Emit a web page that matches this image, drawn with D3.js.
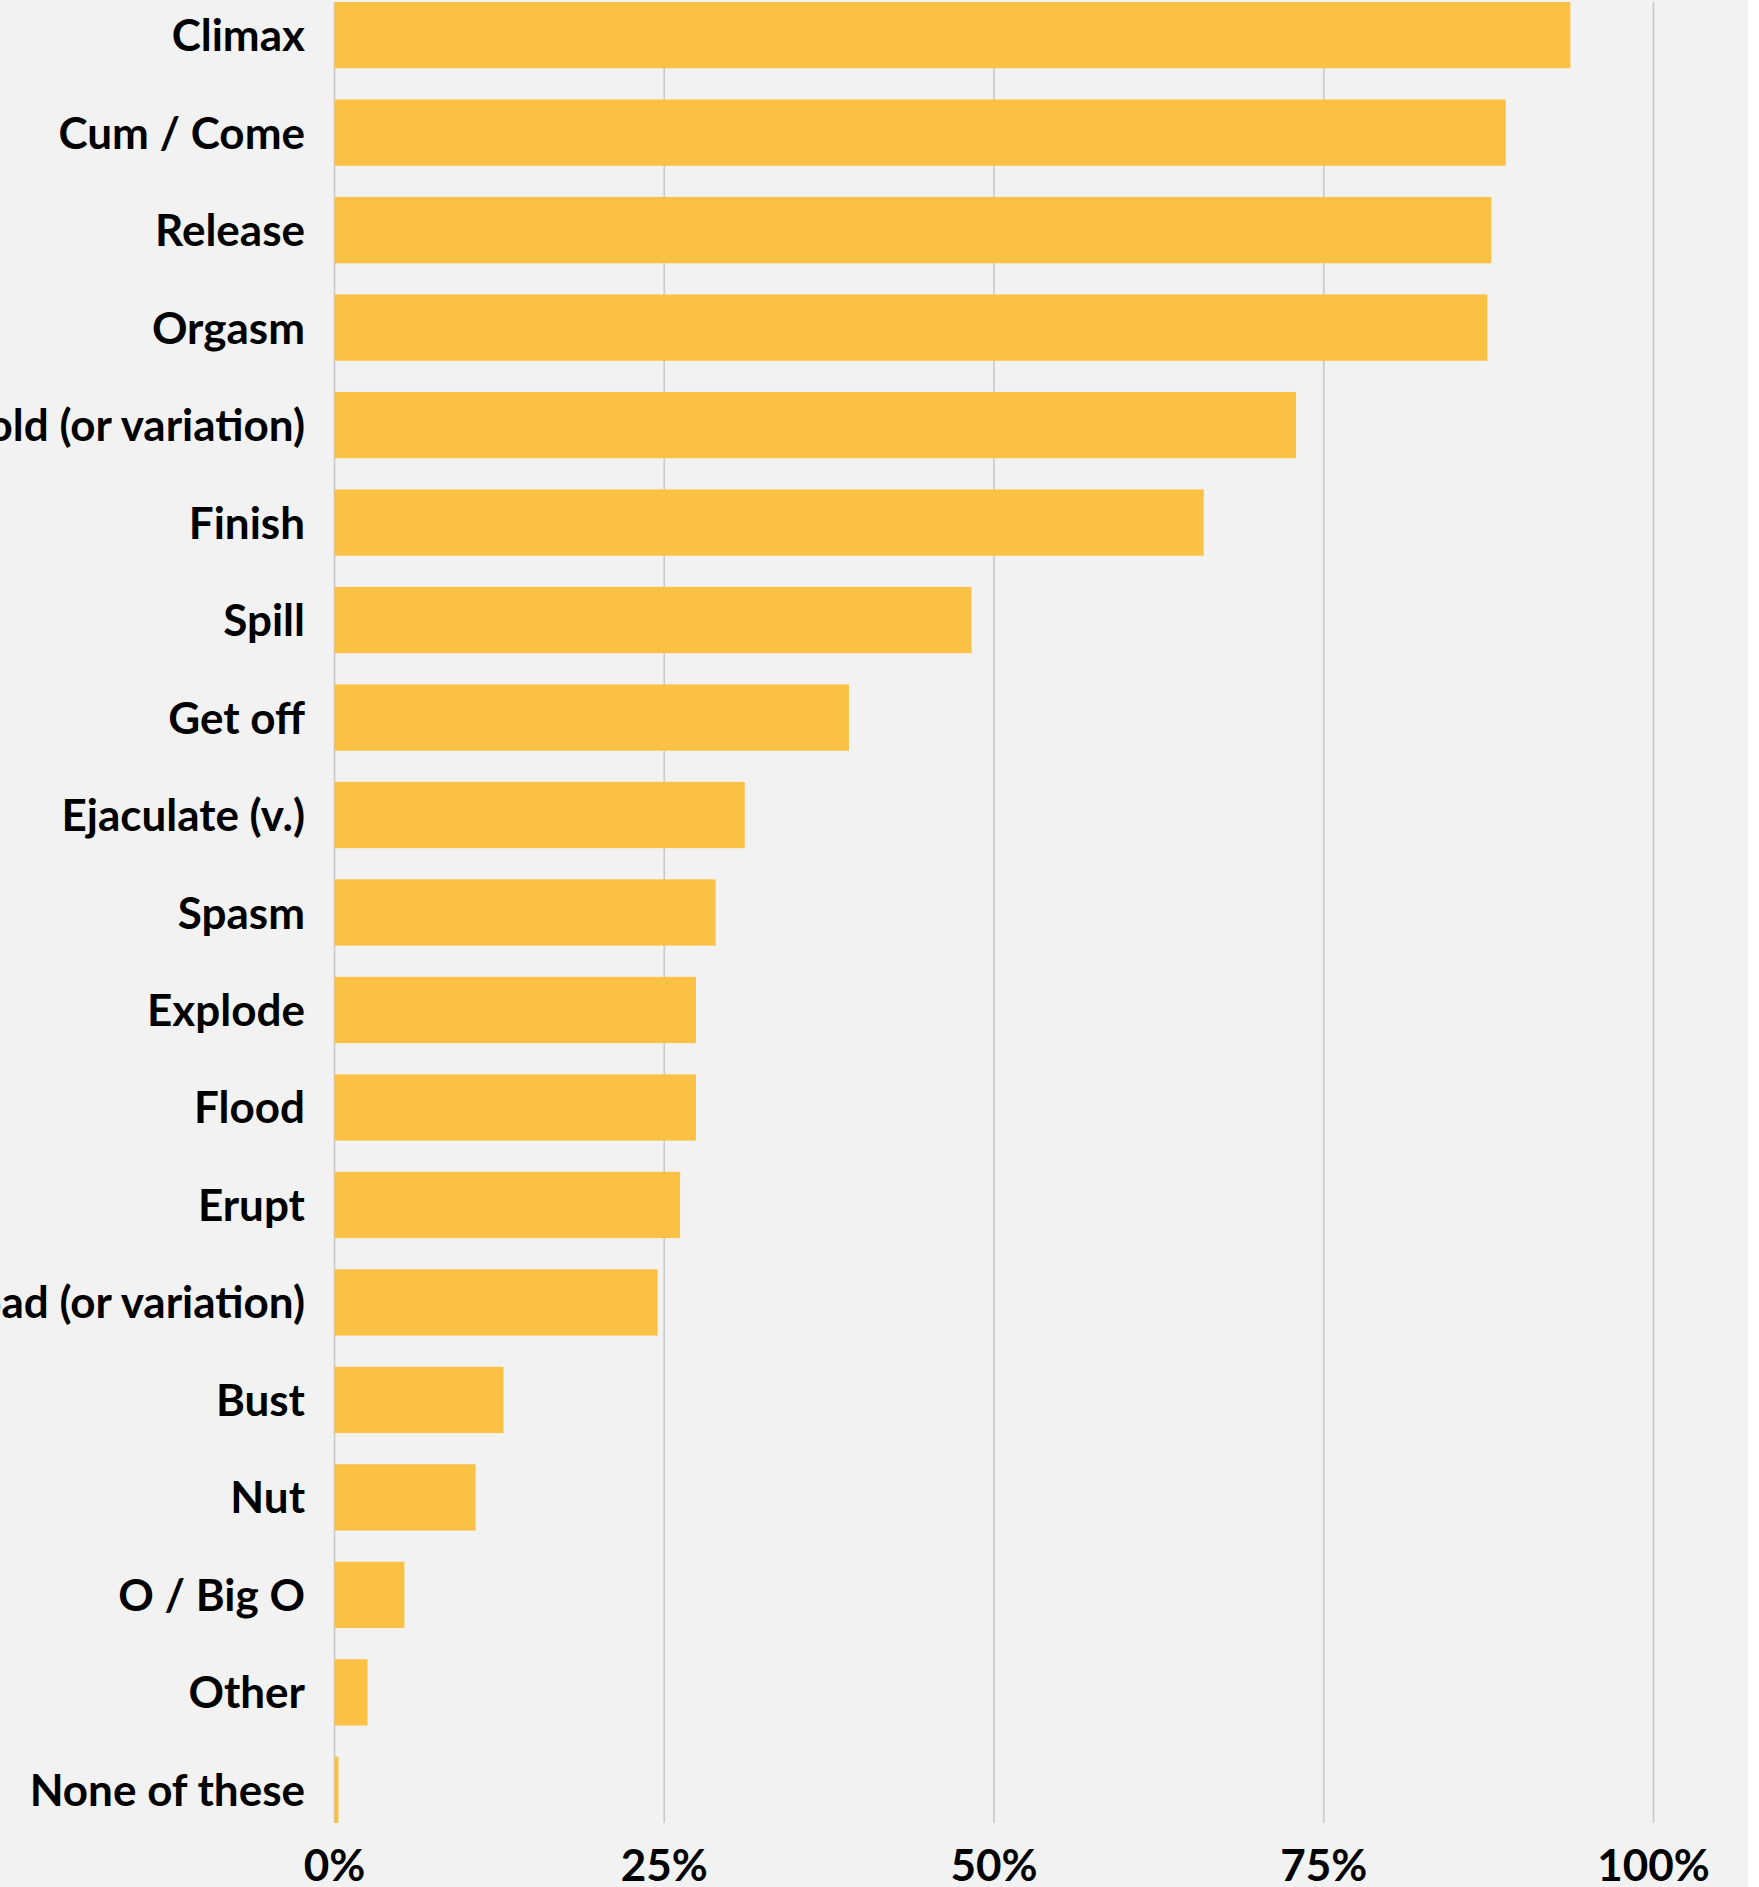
<!DOCTYPE html>
<html>
<head>
<meta charset="utf-8">
<script src="https://cdn.jsdelivr.net/npm/d3@7"></script>
<style>
  html, body { margin: 0; padding: 0; background: #ffffff; }
  svg { display: block; }
  text { font-family: Lato, "Open Sans", sans-serif; font-weight: 700; fill: #000; }
</style>
</head>
<body>
<svg id="chart" width="1759" height="1887"></svg>
<script>
const categories = [
  "Climax", "Cum / Come", "Release", "Orgasm", "Cross the threshold (or variation)",
  "Finish", "Spill", "Get off", "Ejaculate (v.)", "Spasm", "Explode", "Flood",
  "Erupt", "Blow (one's) load (or variation)", "Bust", "Nut", "O / Big O", "Other", "None of these"
];
const values = [93.7, 88.8, 87.7, 87.4, 72.9, 65.9, 48.3, 39.0, 31.1, 28.9, 27.4, 27.4, 26.2, 24.5, 12.8, 10.7, 5.3, 2.5, 0.3];
const tickValues = [0, 25, 50, 75, 100];
const tickLabels = ["0%", "25%", "50%", "75%", "100%"];

const W = 1759, H = 1887;
const svg = d3.select("#chart");

svg.append("rect").attr("x", 0).attr("y", 0).attr("width", 1748).attr("height", H).attr("fill", "#f2f2f2");

const x = d3.scaleLinear().domain([0, 100]).range([334.5, 1653.5]);
const y = d3.scaleBand().domain(categories).range([2, 1823]).paddingInner(0.32).paddingOuter(0);

// gridlines
svg.append("g").selectAll("line").data(tickValues).join("line")
  .attr("x1", d => x(d)).attr("x2", d => x(d))
  .attr("y1", 2).attr("y2", 1823)
  .attr("stroke", "#c9c9c9").attr("stroke-width", 1.6);

// bars
svg.append("g").selectAll("rect").data(values).join("rect")
  .attr("x", x(0))
  .attr("y", (d, i) => y(categories[i]))
  .attr("width", d => x(d) - x(0))
  .attr("height", y.bandwidth())
  .attr("fill", "#fbc145");

// category labels
svg.append("g").selectAll("text").data(categories).join("text")
  .attr("x", 305)
  .attr("y", d => y(d) + y.bandwidth() / 2 + 16)
  .attr("text-anchor", "end")
  .attr("font-size", 44)
  .text(d => d);

// x axis labels
svg.append("g").selectAll("text").data(tickValues).join("text")
  .attr("x", d => x(d))
  .attr("y", 1881)
  .attr("text-anchor", "middle")
  .attr("font-size", 44)
  .text((d, i) => tickLabels[i]);
</script>
</body>
</html>
